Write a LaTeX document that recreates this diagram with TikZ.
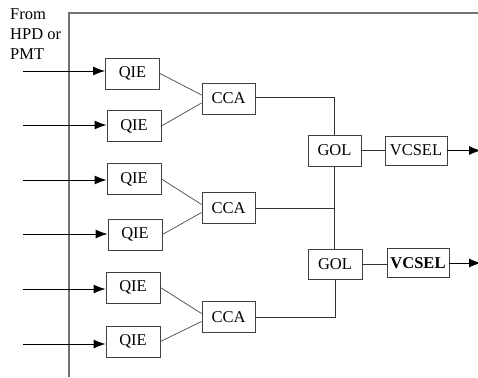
\documentclass[tikz,border=0pt]{standalone}
\usepackage{fontspec}
\setmainfont{Liberation Serif}
\usetikzlibrary{arrows.meta,calc}
\begin{document}
\begin{tikzpicture}[x=1pt,y=-1pt,
  box/.style={draw=black!75,line width=0.9pt,rectangle,inner sep=0pt,minimum width=54pt,minimum height=31pt,font=\fontsize{16.5}{19}\selectfont},
  link/.style={draw=black!65,line width=0.8pt},
  wire/.style={draw=black!80,line width=0.9pt},
  arr/.style={draw=black,line width=0.9pt,-{Latex[length=12pt,width=9pt]}},
  frame/.style={draw=black!55,line width=1.3pt}]
\useasboundingbox (0,0) rectangle (478,377);
% frame
\coordinate (fb) at (69,377);
\coordinate (fc) at (69,13);
\coordinate (fr) at (480,13);
\draw[frame] (fb) -- (fc) -- (fr);
% label
\node[anchor=north west,inner sep=0pt,align=left,font=\fontsize{16.5}{20}\selectfont] (lbl) at (10,8.5) {From\\HPD or\\PMT};
% QIE
\node[box] (q1) at (132.5,73.5) {QIE};
\node[box] (q2) at (134,126) {QIE};
\node[box] (q3) at (134,179) {QIE};
\node[box] (q4) at (135,234.5) {QIE};
\node[box] (q5) at (133,287.5) {QIE};
\node[box] (q6) at (133,341.5) {QIE};
% CCA
\node[box,minimum width=53pt] (c1) at (228.5,98.5) {CCA};
\node[box,minimum width=53pt] (c2) at (228.5,208) {CCA};
\node[box,minimum width=53pt] (c3) at (228.5,317) {CCA};
% GOL
\node[box,minimum width=53pt] (g1) at (334.5,150.5) {GOL};
\node[box,minimum height=30pt] (g2) at (335,264) {GOL};
% VCSEL
\node[box,minimum width=62pt,minimum height=29pt] (v1) at (416,150.5) {VCSEL};
\node[box,minimum width=62pt,minimum height=29pt] (v2) at (418,263) {\textbf{VCSEL}};
% inputs
\foreach \q/\y in {q1/71,q2/125,q3/180,q4/234,q5/289,q6/344}{
  \coordinate (in-\q) at (23,\y);
  \draw[arr] (in-\q) -- (in-\q -| \q.west);
}
% QIE -> CCA
\draw[link] (q1.east) -- ([yshift=3.5pt]c1.west);
\draw[link] (q2.east) -- ([yshift=-4.5pt]c1.west);
\draw[link] (q3.east) -- ([yshift=3.5pt]c2.west);
\draw[link] (q4.east) -- ([yshift=-4.5pt]c2.west);
\draw[link] (q5.east) -- ([yshift=3.5pt]c3.west);
\draw[link] (q6.east) -- ([yshift=-4.5pt]c3.west);
% CCA -> GOL
\draw[wire] ([yshift=1.5pt]c1.east) -| (g1.north);
\draw[wire] (g1.south) -- (g1.south |- g2.north);
\draw[wire] (c2.east) -- (c2.east -| g1.south);
\draw[wire] (g2.south) |- (c3.east);
% GOL -> VCSEL
\draw[wire] (g1.east) -- (g1.east -| v1.west);
\draw[wire] (g2.east) -- (g2.east -| v2.west);
% outputs
\coordinate (o1) at (481,150.5);
\coordinate (o2) at (481,263);
\draw[arr] (v1.east) -- (o1);
\draw[arr] (v2.east) -- (o2);
\end{tikzpicture}
\end{document}
